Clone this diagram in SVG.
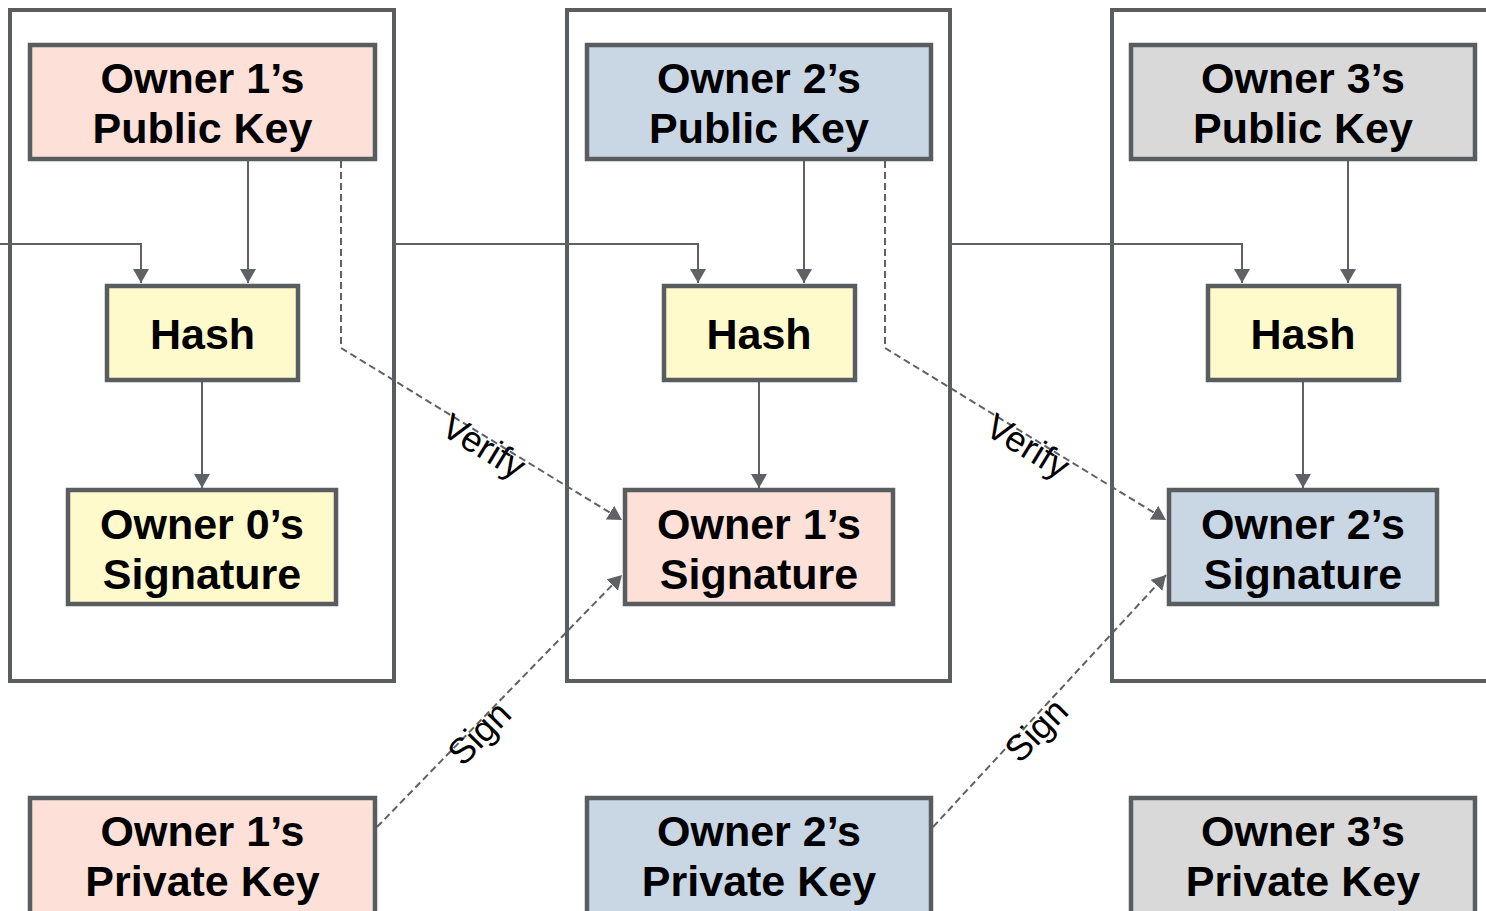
<svg xmlns="http://www.w3.org/2000/svg" width="1486" height="911" viewBox="0 0 1486 911">
<style>
.container{fill:none;stroke:#5a5d60;stroke-width:4}
.box{stroke:#5a5d60;stroke-width:4.5}
.pink{fill:#fde0d8}
.blue{fill:#c9d6e4}
.gray{fill:#d9d9d9}
.yellow{fill:#fffacc}
.t{font-family:"Liberation Sans",Arial,sans-serif;font-weight:bold;font-size:43px;fill:#000;text-anchor:middle}
.solid{fill:none;stroke:#5f6265;stroke-width:2}
.dash{fill:none;stroke:#5f6265;stroke-width:2;stroke-dasharray:7 4}
.lbl{font-family:"Liberation Sans",Arial,sans-serif;font-size:36px;fill:#000;text-anchor:middle;dominant-baseline:central}
</style>
<defs>
<marker id="arr" viewBox="0 0 14 16" refX="14" refY="8" markerWidth="14" markerHeight="16" orient="auto" markerUnits="userSpaceOnUse">
<path d="M0,0 L14,8 L0,16 Z" fill="#5f6265"/>
</marker>
</defs>
<rect width="1486" height="911" fill="#ffffff"/>
<g id="containers">
<rect id="block1" class="container" x="10" y="10" width="384" height="671"/>
<rect id="block2" class="container" x="567" y="10" width="383" height="671"/>
<rect id="block3" class="container" x="1112" y="10" width="400" height="671"/>
</g>
<g id="connectors">
<path class="solid" d="M0,244 H141 V283" marker-end="url(#arr)"/>
<path class="solid" d="M248,159 V283" marker-end="url(#arr)"/>
<path class="solid" d="M202,380 V488" marker-end="url(#arr)"/>
<path class="solid" d="M394,244 H698 V283" marker-end="url(#arr)"/>
<path class="solid" d="M804,159 V283" marker-end="url(#arr)"/>
<path class="solid" d="M759,380 V488" marker-end="url(#arr)"/>
<path class="solid" d="M950,244 H1242 V283" marker-end="url(#arr)"/>
<path class="solid" d="M1348,159 V283" marker-end="url(#arr)"/>
<path class="solid" d="M1303,380 V488" marker-end="url(#arr)"/>
<path class="dash" d="M341,161 V348 L622,520" marker-end="url(#arr)"/>
<path class="dash" d="M885,161 V348 L1166,520" marker-end="url(#arr)"/>
<path class="dash" d="M377,827 L622,575" marker-end="url(#arr)"/>
<path class="dash" d="M933,827 L1166,575" marker-end="url(#arr)"/>
<text class="lbl" transform="translate(484,446) rotate(31.5)">Verify</text>
<text class="lbl" transform="translate(1028,446) rotate(31.5)">Verify</text>
<text class="lbl" transform="translate(479,733) rotate(-45.5)">Sign</text>
<text class="lbl" transform="translate(1036,730) rotate(-45.5)">Sign</text>
</g>
<g id="pub1"><rect class="box pink" x="30" y="45" width="345" height="114"/><text class="t" x="202.5" y="93">Owner 1’s</text><text class="t" x="202.5" y="143">Public Key</text></g>
<g id="pub2"><rect class="box blue" x="587" y="45" width="344" height="114"/><text class="t" x="759" y="93">Owner 2’s</text><text class="t" x="759" y="143">Public Key</text></g>
<g id="pub3"><rect class="box gray" x="1131" y="45" width="344" height="114"/><text class="t" x="1303" y="93">Owner 3’s</text><text class="t" x="1303" y="143">Public Key</text></g>
<g id="hash1"><rect class="box yellow" x="107" y="286" width="191" height="94"/><text class="t" x="202.5" y="349">Hash</text></g>
<g id="hash2"><rect class="box yellow" x="664" y="286" width="191" height="94"/><text class="t" x="759" y="349">Hash</text></g>
<g id="hash3"><rect class="box yellow" x="1208" y="286" width="191" height="94"/><text class="t" x="1303" y="349">Hash</text></g>
<g id="sig0"><rect class="box yellow" x="68" y="490" width="268" height="114"/><text class="t" x="202" y="539">Owner 0’s</text><text class="t" x="202" y="589">Signature</text></g>
<g id="sig1"><rect class="box pink" x="625" y="490" width="268" height="114"/><text class="t" x="759" y="539">Owner 1’s</text><text class="t" x="759" y="589">Signature</text></g>
<g id="sig2"><rect class="box blue" x="1169" y="490" width="268" height="114"/><text class="t" x="1303" y="539">Owner 2’s</text><text class="t" x="1303" y="589">Signature</text></g>
<g id="priv1"><rect class="box pink" x="30" y="798" width="345" height="130"/><text class="t" x="202.5" y="846">Owner 1’s</text><text class="t" x="202.5" y="896">Private Key</text></g>
<g id="priv2"><rect class="box blue" x="587" y="798" width="344" height="130"/><text class="t" x="759" y="846">Owner 2’s</text><text class="t" x="759" y="896">Private Key</text></g>
<g id="priv3"><rect class="box gray" x="1131" y="798" width="344" height="130"/><text class="t" x="1303" y="846">Owner 3’s</text><text class="t" x="1303" y="896">Private Key</text></g>
</svg>
